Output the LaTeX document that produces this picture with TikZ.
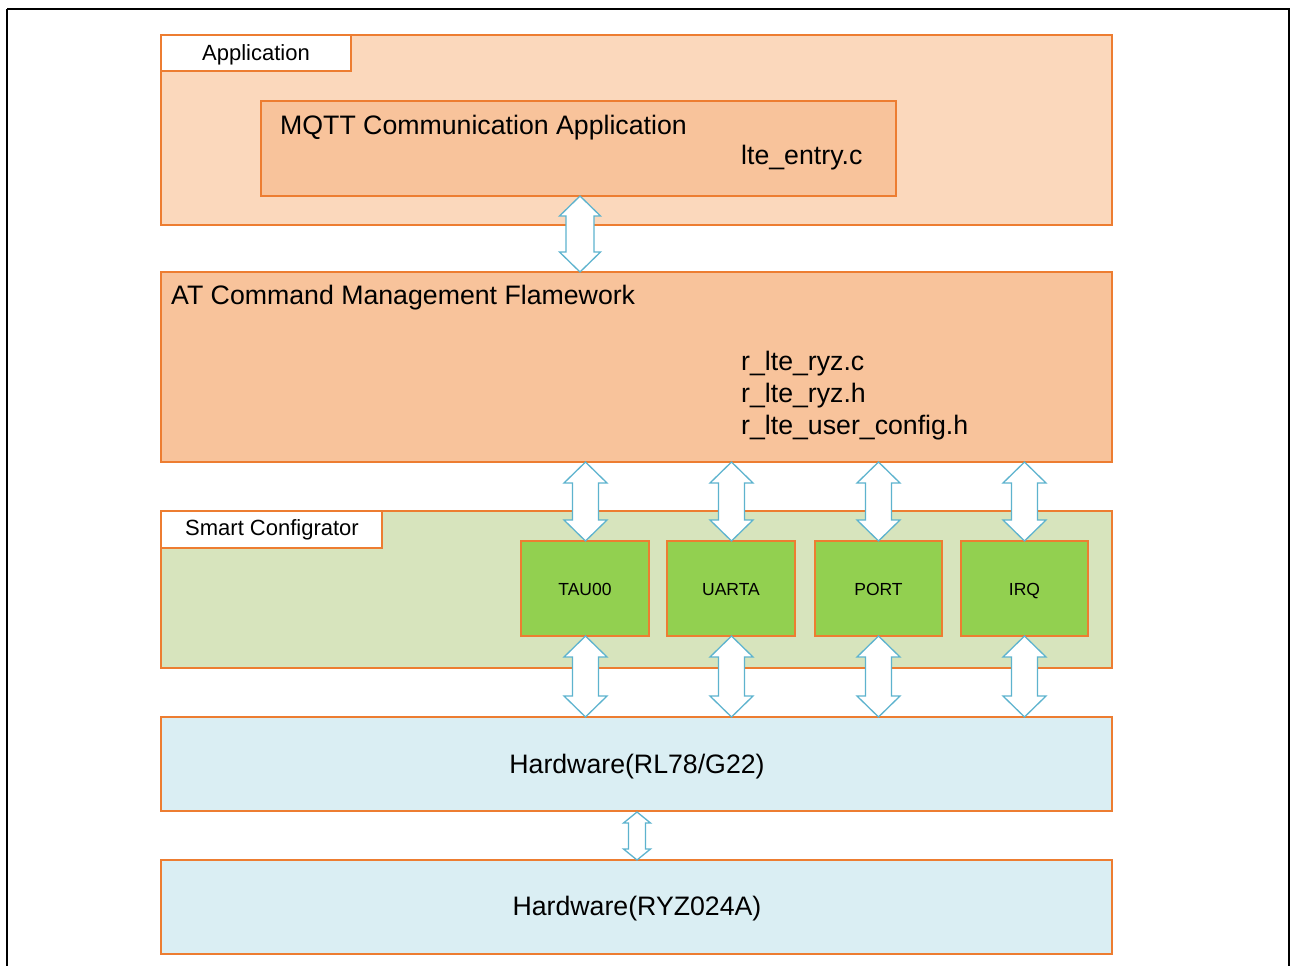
\documentclass[tikz,border=0pt]{standalone}
\usepackage{fontspec}
\setmainfont{Liberation Sans}
\definecolor{appfill}{HTML}{FBD8BC}
\definecolor{midfill}{HTML}{F8C39B}
\definecolor{orng}{HTML}{ED7D31}
\definecolor{scfill}{HTML}{D7E4BD}
\definecolor{grn}{HTML}{92D050}
\definecolor{hwfill}{HTML}{DAEEF3}
\definecolor{arr}{HTML}{5DB3CE}
\newcommand{\dbarrow}[6]{% cx, ytop, ybot, bodyhalf, headhalf, headlen
  \draw[arrowshape] (#1,#2) -- (#1+#5,#2+#6) -- (#1+#4,#2+#6) -- (#1+#4,#3-#6) -- (#1+#5,#3-#6)
    -- (#1,#3) -- (#1-#5,#3-#6) -- (#1-#4,#3-#6) -- (#1-#4,#2+#6) -- (#1-#5,#2+#6) -- cycle;}
\begin{document}
\begin{tikzpicture}[x=1pt,y=-1pt,
  box/.style={draw=orng,line width=1.5pt},
  tab/.style={draw=orng,line width=1.5pt,fill=white},
  arrowshape/.style={draw=arr,fill=white,line width=1.3pt,line join=miter},
  big/.style={font=\fontsize{26.7}{32}\selectfont,inner sep=0pt},
  mid/.style={font=\fontsize{22}{26}\selectfont,inner sep=0pt},
  small/.style={font=\fontsize{17.5}{21}\selectfont,inner sep=0pt}]
\useasboundingbox (0,0) rectangle (1290,966);
\fill[white] (0,0) rectangle (1290,966);
\draw[black,line width=1.5pt] (7,9) -- (1289,9) -- (1289,975) (7,975) -- (7,9);
% Application
\draw[box,fill=appfill] (161,35) rectangle (1112,225);
\draw[tab] (161,35) rectangle (351,71);
\node[mid,anchor=base] (applbl) at (256,60) {Application};
\draw[box,fill=midfill] (261,101) rectangle (896,196);
\node[big,anchor=base west] (mqtt) at (280,134) {MQTT Communication Application};
\node[big,anchor=base west] (lteentry) at (741,164) {lte\_entry.c};
% AT
\draw[box,fill=midfill] (161,272) rectangle (1112,462);
\node[big,anchor=base west] (at) at (171,304) {AT Command Management Flamework};
\node[big,anchor=base west] (f1) at (741,370) {r\_lte\_ryz.c};
\node[big,anchor=base west] (f2) at (741,402) {r\_lte\_ryz.h};
\node[big,anchor=base west] (f3) at (741,434) {r\_lte\_user\_config.h};
% Smart Configurator
\draw[box,fill=scfill] (161,511) rectangle (1112,668);
\draw[tab] (161,511) rectangle (382,548);
\node[mid,anchor=base] (sclbl) at (272,535) {Smart Configrator};
\foreach \x/\xx/\t in {521/649/TAU00,667/795/UARTA,815/942/PORT,961/1088/IRQ}{
  \draw[box,fill=grn] (\x,541) rectangle (\xx,636);
  \node[small,anchor=base] (\t) at ({(\x+\xx)/2},595) {\t};
}
% Hardware
\draw[box,fill=hwfill] (161,717) rectangle (1112,811);
\node[big,anchor=base] (hw1) at (637,773) {Hardware(RL78/G22)};
\draw[box,fill=hwfill] (161,860) rectangle (1112,954);
\node[big,anchor=base] (hw2) at (637,915) {Hardware(RYZ024A)};
% arrows
\dbarrow{580}{196}{272}{14}{20.5}{20}
\foreach \c in {585.5,731.5,878.5,1024.5}{
  \dbarrow{\c}{462}{541}{13}{21.5}{21}
  \dbarrow{\c}{636}{717}{13}{21.5}{21}
}
\dbarrow{637}{812}{860}{8.5}{13.5}{11}
\end{tikzpicture}
\end{document}
